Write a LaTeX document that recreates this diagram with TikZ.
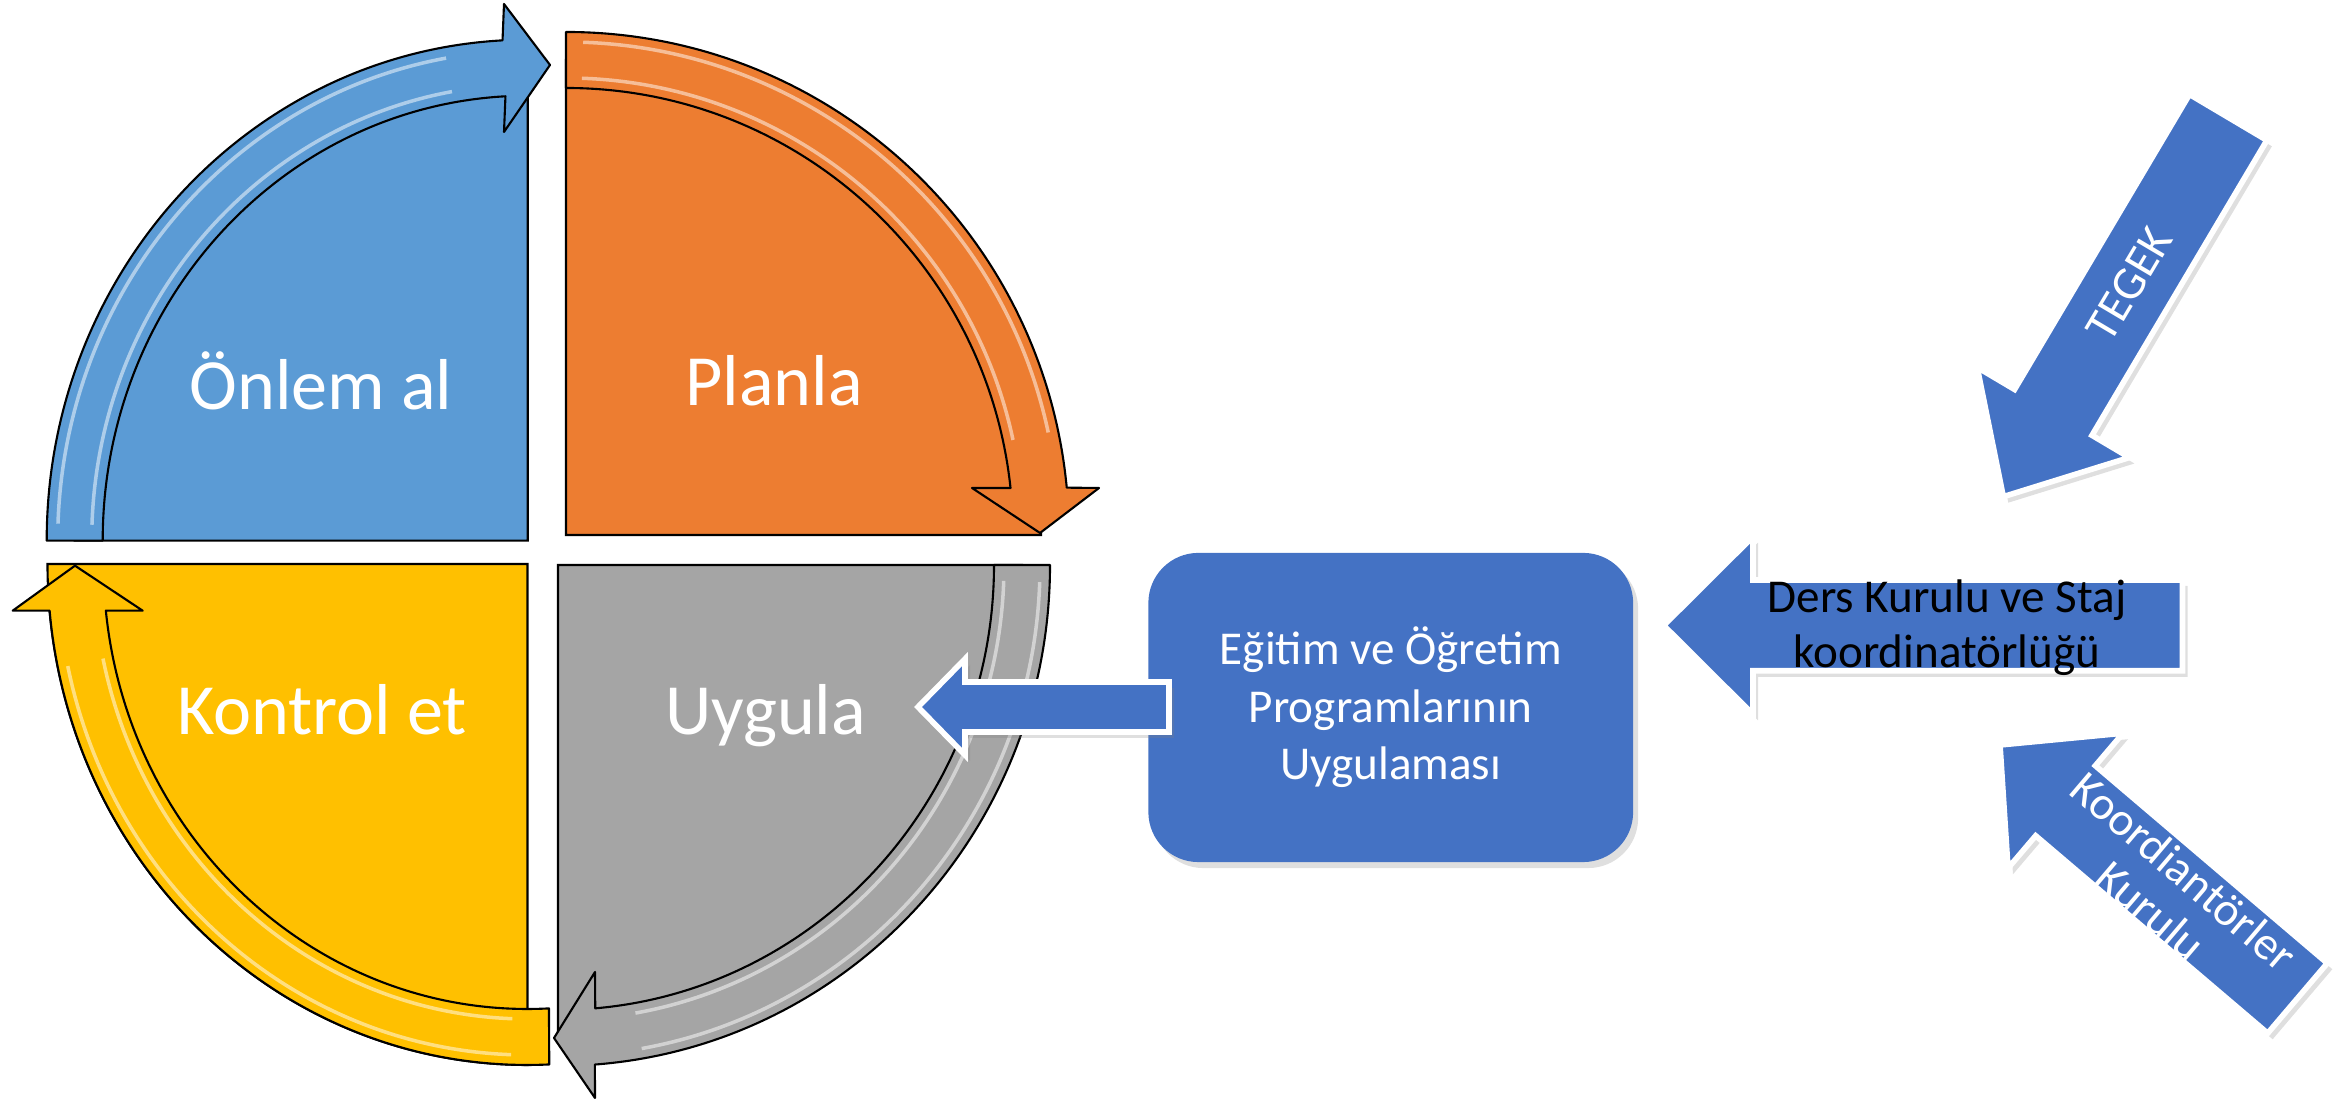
\documentclass[tikz,border=0pt]{standalone}
\usepackage{fontspec}
\setmainfont{Carlito}
\usetikzlibrary{shadows}

\definecolor{onlemblue}{HTML}{5B9BD5}
\definecolor{planorange}{HTML}{ED7D31}
\definecolor{uygulagray}{HTML}{A5A5A5}
\definecolor{kontrolgold}{HTML}{FFC000}
\definecolor{okblue}{HTML}{4472C4}

\tikzset{
  dilim/.style={draw=black, line width=0.6pt},
  kusak/.style={draw=black, line width=0.6pt, line join=round},
  parilti/.style={draw=white, opacity=0.5, line width=1pt},
  blokok/.style={fill=okblue, draw=white, line width=1.6pt,
    drop shadow={opacity=0.25, shadow xshift=0.05cm, shadow yshift=-0.06cm}},
  buyukyazi/.style={font=\fontsize{20.5}{24}\selectfont, text=white, anchor=base},
  kucukyazi/.style={font=\fontsize{13.4}{15.6}\selectfont, align=center, inner sep=0pt},
}

\begin{document}
\begin{tikzpicture}[x=0.01cm, y=0.01cm]
\useasboundingbox (0,0) rectangle (2339,1101);

\begin{scope}[shift={(527.7,560.3)}]
\filldraw[dilim, fill=onlemblue] (0,0) -- (-453,0) arc[start angle=180, end angle=90, x radius=453, y radius=473] -- cycle;
\filldraw[kusak, fill=onlemblue] (180:481 and 501) arc[start angle=180, end angle=93, x radius=481, y radius=501] -- (-23.7,536.7) -- (22.3,475.7) -- (-23.7,408.7) -- (93:425 and 445) arc[start angle=93, end angle=180, x radius=425, y radius=445] -- cycle;
\draw[parilti] (178:470 and 490) arc[start angle=178, end angle=100, x radius=470, y radius=490];
\draw[parilti] (178:436 and 456) arc[start angle=178, end angle=100, x radius=436, y radius=456];
\end{scope}

\begin{scope}[shift={(566,566)}]
\filldraw[dilim, fill=planorange] (0,0) -- (0,475) arc[start angle=90, end angle=0, radius=475] -- cycle;
\filldraw[kusak, fill=planorange] (90:503) arc[start angle=90, end angle=5.4, radius=503] -- (533,47) -- (474,2) -- (406,47) -- (6.04:447) arc[start angle=6.04, end angle=90, radius=447] -- cycle;
\draw[parilti] (88:493) arc[start angle=88, end angle=12, radius=493];
\draw[parilti] (88:457) arc[start angle=88, end angle=12, radius=457];
\end{scope}

\begin{scope}[shift={(558,536)}]
\filldraw[dilim, fill=uygulagray] (0,0) -- (464,0) arc[start angle=0, end angle=-90, x radius=464, y radius=473] -- cycle;
\filldraw[kusak, fill=uygulagray] (0:492 and 501) arc[start angle=0, end angle=-85.7, x radius=492, y radius=501] -- (37,-533) -- (-4,-473) -- (37,-407) -- (-85.1:436 and 445) arc[start angle=-85.1, end angle=0, x radius=436, y radius=445] -- cycle;
\draw[parilti] (-2:482 and 491) arc[start angle=-2, end angle=-80, x radius=482, y radius=491];
\draw[parilti] (-2:446 and 455) arc[start angle=-2, end angle=-80, x radius=446, y radius=455];
\end{scope}

\begin{scope}[shift={(527.5,537)}]
\filldraw[dilim, fill=kontrolgold] (0,0) -- (0,-501) arc[start angle=-90, end angle=-180, x radius=480, y radius=501] -- cycle;
\filldraw[kusak, fill=kontrolgold] (-87.4:480 and 501) arc[start angle=-87.4, end angle=-174.65, x radius=480, y radius=501] -- (-514.8,-46.7) -- (-452.5,-1.7) -- (-384.8,-46.7) -- (-173.98:424 and 445) arc[start angle=-173.98, end angle=-87.1, x radius=424, y radius=445] -- cycle;
\draw[parilti] (-92:470 and 491) arc[start angle=-92, end angle=-168, x radius=470, y radius=491];
\draw[parilti] (-92:434 and 455) arc[start angle=-92, end angle=-168, x radius=434, y radius=455];
\end{scope}

\node[buyukyazi] (onlem) at (321,691) {Önlem al};
\node[buyukyazi] (planla) at (774,695.5) {Planla};
\node[buyukyazi] (kontrol) at (322,366.5) {Kontrol et};
\node[buyukyazi] (uygula) at (765.5,366.5) {Uygula};

\node[kucukyazi, font=\fontsize{13.4}{16.4}\selectfont, text=white, fill=okblue, rounded corners=0.5cm,
  minimum width=4.845cm, minimum height=3.09cm,
  drop shadow={opacity=0.25, shadow xshift=0.05cm, shadow yshift=-0.06cm}] (program) at (1390.75,393.5) {Eğitim ve Öğretim\\Programlarının\\Uygulaması};

\filldraw[blokok] (1169,419) -- (965,419) -- (965,442) -- (918,394) -- (965,346) -- (965,369) -- (1169,369) -- cycle;

\filldraw[blokok] (2182.5,521) -- (1753,521) -- (1753,564.4) -- (1663.7,475.5) -- (1753,386.6) -- (1753,430.2) -- (2182.5,430.2) -- cycle;
\node[kucukyazi, text=black] (ders) at (1947,473) {Ders Kurulu ve Staj\\koordinatörlüğü};

\begin{scope}[shift={(2003.3,604.3)}, rotate=239.34]
\filldraw[blokok] (0,0) -- (-98,88.5) -- (-98,45) -- (-441,45) -- (-441,-45) -- (-98,-45) -- (-98,-88.5) -- cycle;
\end{scope}
\node[kucukyazi, text=white, rotate=59.34] (tegek) at (2129.2,816.8) {TEGEK};

\begin{scope}[shift={(2000,356)}, rotate=139.59]
\filldraw[blokok] (0,0) -- (-86,88.7) -- (-86,46) -- (-390.7,46) -- (-390.7,-46) -- (-86,-46) -- (-86,-88.7) -- cycle;
\end{scope}
\node[kucukyazi, font=\fontsize{13.4}{14.6}\selectfont, text=white, rotate=-40.41] (koord) at (2167.5,210.2) {Koordiantörler\\Kurulu};

\end{tikzpicture}
\end{document}
